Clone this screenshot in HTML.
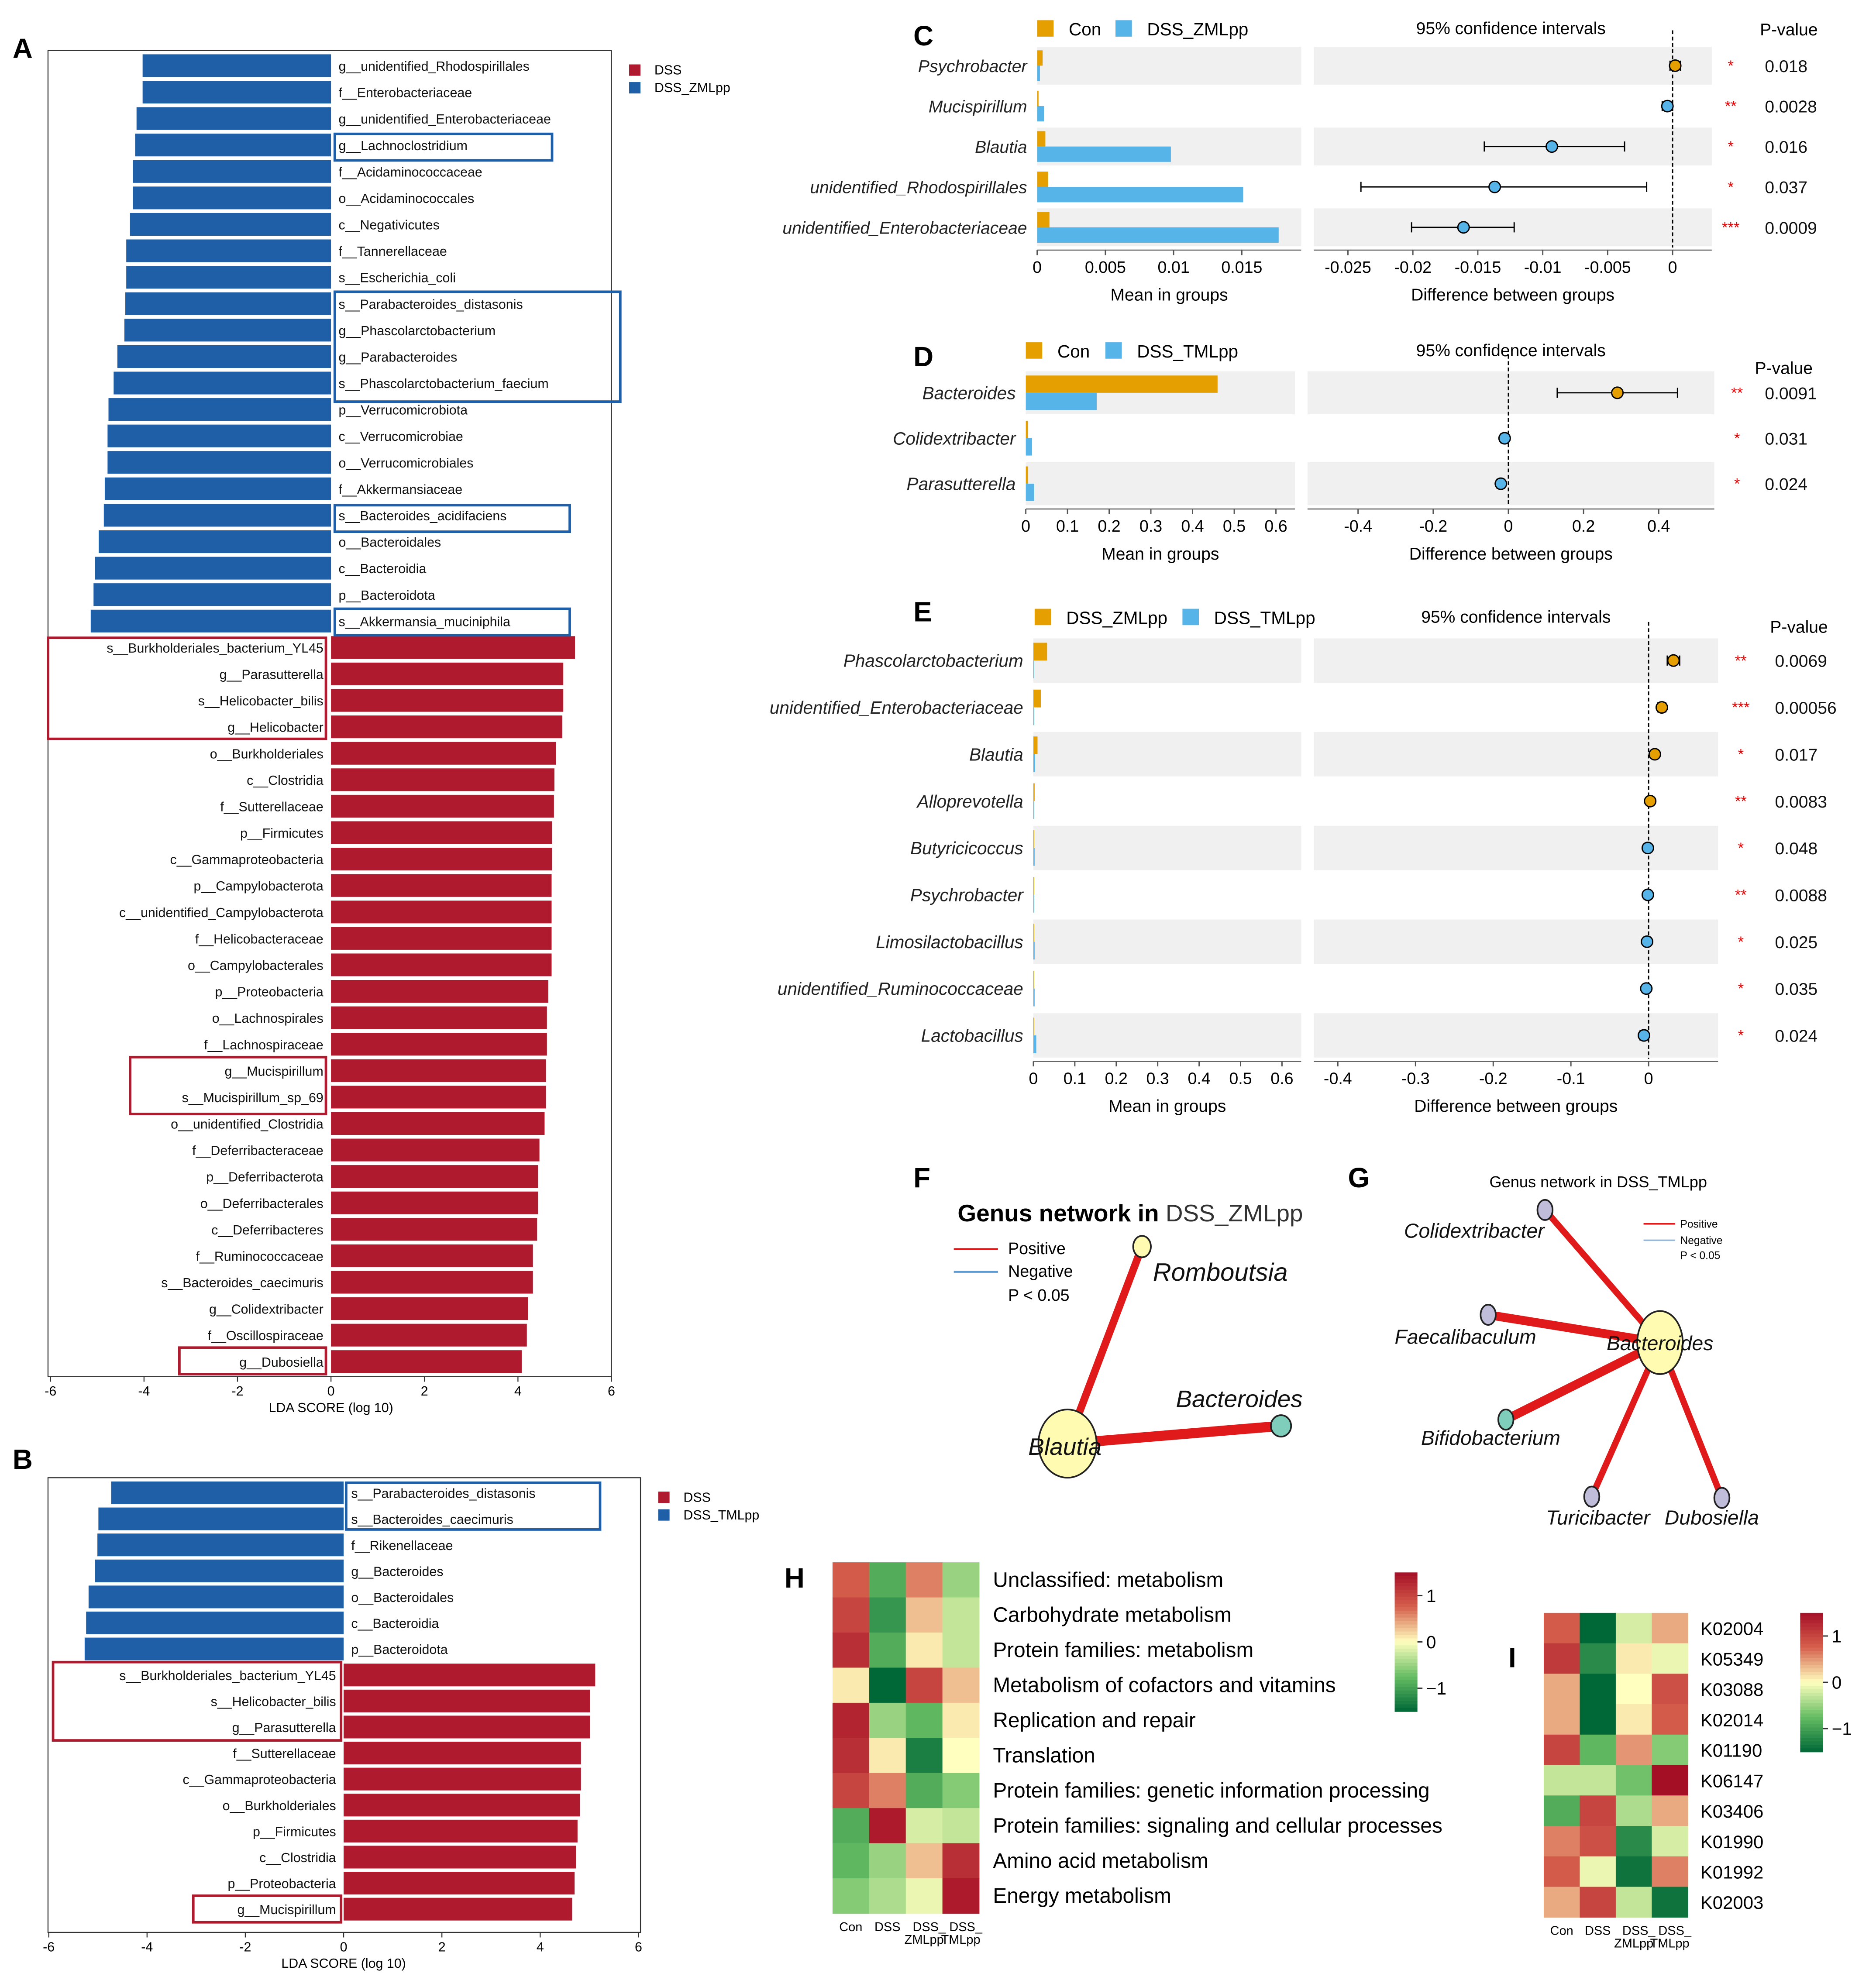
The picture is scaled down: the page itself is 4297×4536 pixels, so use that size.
<!DOCTYPE html>
<html><head><meta charset="utf-8">
<style>
html,body{margin:0;padding:0;background:#fff;}
svg{display:block;font-family:"Liberation Sans",Arial,sans-serif;}
</style></head>
<body>
<svg id="fig" xmlns="http://www.w3.org/2000/svg" width="4297" height="4536" viewBox="0 0 1485 1567.7" preserveAspectRatio="none">
<rect x="0" y="0" width="1500" height="1590" fill="#fff"/>
<g font-weight="bold" font-size="22" fill="#000">
<text x="10" y="46">A</text>
<text x="10" y="1163">B</text>
<text x="723" y="36">C</text>
<text x="723" y="290">D</text>
<text x="723" y="492">E</text>
<text x="723" y="940">F</text>
<text x="1067" y="940">G</text>
<text x="621" y="1257">H</text>
<text x="1194" y="1320">I</text>
</g>
</svg>
<script>
const NS='http://www.w3.org/2000/svg';
const S=document.getElementById('fig');
function mk(tag,attrs,txt){const e=document.createElementNS(NS,tag);for(const k in attrs)e.setAttribute(k,attrs[k]);if(txt!=null)e.textContent=txt;S.appendChild(e);return e;}

// ===== Panel A data =====
const ldaA_labels=["g__unidentified_Rhodospirillales","f__Enterobacteriaceae","g__unidentified_Enterobacteriaceae","g__Lachnoclostridium","f__Acidaminococcaceae","o__Acidaminococcales","c__Negativicutes","f__Tannerellaceae","s__Escherichia_coli","s__Parabacteroides_distasonis","g__Phascolarctobacterium","g__Parabacteroides","s__Phascolarctobacterium_faecium","p__Verrucomicrobiota","c__Verrucomicrobiae","o__Verrucomicrobiales","f__Akkermansiaceae","s__Bacteroides_acidifaciens","o__Bacteroidales","c__Bacteroidia","p__Bacteroidota","s__Akkermansia_muciniphila","s__Burkholderiales_bacterium_YL45","g__Parasutterella","s__Helicobacter_bilis","g__Helicobacter","o__Burkholderiales","c__Clostridia","f__Sutterellaceae","p__Firmicutes","c__Gammaproteobacteria","p__Campylobacterota","c__unidentified_Campylobacterota","f__Helicobacteraceae","o__Campylobacterales","p__Proteobacteria","o__Lachnospirales","f__Lachnospiraceae","g__Mucispirillum","s__Mucispirillum_sp_69","o__unidentified_Clostridia","f__Deferribacteraceae","p__Deferribacterota","o__Deferribacterales","c__Deferribacteres","f__Ruminococcaceae","s__Bacteroides_caecimuris","g__Colidextribacter","f__Oscillospiraceae","g__Dubosiella"];
const ldaA_values=[-4.03,-4.03,-4.16,-4.19,-4.24,-4.24,-4.3,-4.38,-4.38,-4.4,-4.42,-4.57,-4.65,-4.76,-4.78,-4.78,-4.84,-4.86,-4.97,-5.05,-5.08,-5.14,5.22,4.97,4.97,4.95,4.81,4.78,4.77,4.73,4.73,4.72,4.72,4.72,4.72,4.65,4.62,4.62,4.6,4.6,4.57,4.46,4.43,4.43,4.41,4.32,4.32,4.22,4.19,4.08];
const ldaA_ticks=[-6,-4,-2,0,2,4,6];
// ===== Panel B data =====
const ldaB_labels=["s__Parabacteroides_distasonis","s__Bacteroides_caecimuris","f__Rikenellaceae","g__Bacteroides","o__Bacteroidales","c__Bacteroidia","p__Bacteroidota","s__Burkholderiales_bacterium_YL45","s__Helicobacter_bilis","g__Parasutterella","f__Sutterellaceae","c__Gammaproteobacteria","o__Burkholderiales","p__Firmicutes","c__Clostridia","p__Proteobacteria","g__Mucispirillum"];
const ldaB_values=[-4.73,-4.99,-5.01,-5.06,-5.19,-5.24,-5.27,5.12,5.01,5.01,4.83,4.83,4.81,4.76,4.73,4.7,4.65];
const ldaB_ticks=[-6,-4,-2,0,2,4,6];

function ldaPanel(id,labels,vals,ticks,c){
  const bx=mk('rect',{x:c.L,y:c.T,width:c.R-c.L,height:c.B-c.T,fill:'none',stroke:'#333','stroke-width':0.8});
  
  
  const X=v=>c.x0+v*c.ppu;
  labels.forEach((lab,i)=>{
    const v=vals[i];const y=c.y0+i*c.step;
    const x1=Math.min(X(v),X(0)),w=Math.abs(X(v)-X(0));
    const r=mk('rect',{x:x1,y:y-c.bh/2,width:w,height:c.bh,fill:v<0?'#1f5fa8':'#b01a2e'});
    
    
    const t=mk('text',{x:v<0?X(0)+6:X(0)-6,y:y+4,'font-size':10.5,'text-anchor':v<0?'start':'end',fill:'#111'},lab);
    
    
  });
  ticks.forEach(tk=>{
    const l=mk('line',{x1:X(tk),x2:X(tk),y1:c.B,y2:c.B+4,stroke:'#333','stroke-width':0.8});
    
    
    const t=mk('text',{x:X(tk),y:c.B+15,'font-size':10.5,'text-anchor':'middle'},String(tk));
    
    
  });
  const xt=mk('text',{x:X(0),y:c.B+28,'font-size':10.5,'text-anchor':'middle'},'LDA SCORE (log 10)');
  
  
  [['#b01a2e','DSS',0],['#1f5fa8',c.g2,14]].forEach(e=>{
    const s=mk('rect',{x:c.lx,y:c.ly+e[2]-4,width:9,height:9,fill:e[0]});
    
    
    const t=mk('text',{x:c.lx+20,y:c.ly+e[2]+4,'font-size':10.5},e[1]);
    
    
  });
  c.boxes.forEach(b=>{
    const r=mk('rect',{x:b[0],y:b[1],width:b[2]-b[0],height:b[3]-b[1],fill:'none',stroke:b[4],'stroke-width':2});
    
    
  });
}
ldaPanel('lda-a',ldaA_labels,ldaA_values,ldaA_ticks,{L:38,R:484,T:40,B:1090,x0:262,ppu:37,y0:52,step:20.94,bh:18,lx:498,ly:55,g2:'DSS_ZMLpp',
 boxes:[[265,106,437,127,'#1f5fa8'],[265,231,491,318,'#1f5fa8'],[265,400,451,421,'#1f5fa8'],[265,482,451,503,'#1f5fa8'],[38,505,258,585,'#b01a2e'],[103,837,258,882,'#b01a2e'],[142,1067,258,1088,'#b01a2e']]});
ldaPanel('lda-b',ldaB_labels,ldaB_values,ldaB_ticks,{L:38,R:507,T:1170,B:1530,x0:272,ppu:38.9,y0:1182,step:20.6,bh:18,lx:521,ly:1185,g2:'DSS_TMLpp',
 boxes:[[274,1174,475,1211,'#1f5fa8'],[42,1316,270,1378,'#b01a2e'],[153,1501,270,1522,'#b01a2e']]});

// ===== Panel C data =====
const c_taxa=["Psychrobacter","Mucispirillum","Blautia","unidentified_Rhodospirillales","unidentified_Enterobacteriaceae"];
const c_g1=[0.0004,0.0001,0.0006,0.0008,0.0009];
const c_g2=[0.0002,0.0005,0.0098,0.0151,0.0177];
const c_diff=[0.0002,-0.0004,-0.0093,-0.0137,-0.0161];
const c_lo=[-0.0002,-0.0008,-0.0145,-0.024,-0.0201];
const c_hi=[0.0006,0.0000,-0.0037,-0.002,-0.0122];
const c_p=["0.018","0.0028","0.016","0.037","0.0009"];
const c_stars=["*","**","*","*","***"];
const c_meanTicks=[0,0.005,0.01,0.015];
const c_diffTicks=[-0.025,-0.02,-0.015,-0.01,-0.005,0];
// ===== Panel D data =====
const d_taxa=["Bacteroides","Colidextribacter","Parasutterella"];
const d_g1=[0.46,0.005,0.005];
const d_g2=[0.17,0.015,0.02];
const d_diff=[0.29,-0.01,-0.02];
const d_lo=[0.13,-0.02,-0.03];
const d_hi=[0.45,0.0,-0.01];
const d_p=["0.0091","0.031","0.024"];
const d_stars=["**","*","*"];
const d_meanTicks=[0,0.1,0.2,0.3,0.4,0.5,0.6];
const d_diffTicks=[-0.4,-0.2,0,0.2,0.4];
// ===== Panel E data =====
const e_taxa=["Phascolarctobacterium","unidentified_Enterobacteriaceae","Blautia","Alloprevotella","Butyricicoccus","Psychrobacter","Limosilactobacillus","unidentified_Ruminococcaceae","Lactobacillus"];
const e_g1=[0.033,0.018,0.01,0.003,0.002,0.002,0.002,0.001,0.001];
const e_g2=[0.001,0.002,0.004,0.001,0.003,0.002,0.003,0.003,0.007];
const e_diff=[0.032,0.017,0.008,0.002,-0.001,-0.001,-0.002,-0.003,-0.006];
const e_lo=[0.024,0.012,0.004,0.0,-0.004,-0.003,-0.004,-0.006,-0.011];
const e_hi=[0.04,0.022,0.012,0.004,0.002,0.001,0.0,0.0,-0.001];
const e_p=["0.0069","0.00056","0.017","0.0083","0.048","0.0088","0.025","0.035","0.024"];
const e_stars=["**","***","*","**","*","**","*","*","*"];
const e_meanTicks=[0,0.1,0.2,0.3,0.4,0.5,0.6];
const e_diffTicks=[-0.4,-0.3,-0.2,-0.1,0];

const ORANGE='#e69f00',BLUE='#56b4e9';
function extPlot(id,taxa,g1,g2,diff,lo,hi,p,stars,mt,dt,c){
  const MX=v=>c.mL+(v-mt[0])*c.mppu;
  const DX=v=>c.d0+v*c.dppu;
  taxa.forEach((tx,i)=>{
    const y=c.y0+i*c.step;
    if(i%2===0){
      const b1=mk('rect',{x:c.mL,y:y-c.step/2+1,width:c.mR-c.mL,height:c.step-2,fill:'#f0f0f0'});
      
      
      const b2=mk('rect',{x:c.dL,y:y-c.step/2+1,width:c.dR-c.dL,height:c.step-2,fill:'#f0f0f0'});
      
      
    }
    const t=mk('text',{x:c.mL-8,y:y+5,'font-size':c.fs,'font-style':'italic','text-anchor':'end',fill:'#222'},tx);
    
    
    const bh=c.step*0.38;
    const r1=mk('rect',{x:MX(0),y:y-bh,width:Math.max(0.6,MX(g1[i])-MX(0)),height:bh,fill:ORANGE});
    
    
    const r2=mk('rect',{x:MX(0),y:y,width:Math.max(0.6,MX(g2[i])-MX(0)),height:bh,fill:BLUE});
    
    
  });
  const zl=mk('line',{x1:DX(0),x2:DX(0),y1:c.y0-c.step/2-12,y2:c.y0+(taxa.length-0.5)*c.step,stroke:'#000','stroke-width':1,'stroke-dasharray':'3,2'});
  
  
  taxa.forEach((tx,i)=>{
    const y=c.y0+i*c.step;
    const l=mk('line',{x1:DX(lo[i]),x2:DX(hi[i]),y1:y,y2:y,stroke:'#000','stroke-width':1});
    
    
    [lo[i],hi[i]].forEach(v=>{
      const cap=mk('line',{x1:DX(v),x2:DX(v),y1:y-4,y2:y+4,stroke:'#000','stroke-width':1});
      
      
    });
    const pt=mk('circle',{cx:DX(diff[i]),cy:y,r:4.5,fill:diff[i]>=0?ORANGE:BLUE,stroke:'#000','stroke-width':1});
    
    
    const st=mk('text',{x:c.sx,y:y+4,'font-size':12,fill:'#e00','text-anchor':'middle'},stars[i]);
    
    
    const pv=mk('text',{x:c.px,y:y+5,'font-size':13.5,fill:'#111'},p[i]);
    
    
  });
  const yb=c.y0+(taxa.length-0.5)*c.step+2;
  [[c.mL,c.mR],[c.dL,c.dR]].forEach(a=>{
    const ax=mk('line',{x1:a[0],x2:a[1],y1:yb,y2:yb,stroke:'#555','stroke-width':0.8});
    
    
  });
  mt.forEach(v=>{
    const tk=mk('line',{x1:MX(v),x2:MX(v),y1:yb,y2:yb+4,stroke:'#555'});
    
    
    const t=mk('text',{x:MX(v),y:yb+18,'font-size':13,'text-anchor':'middle'},String(v));
    
    
  });
  dt.forEach(v=>{
    const tk=mk('line',{x1:DX(v),x2:DX(v),y1:yb,y2:yb+4,stroke:'#555'});
    
    
    const t=mk('text',{x:DX(v),y:yb+18,'font-size':13,'text-anchor':'middle'},String(v));
    
    
  });
  const t1=mk('text',{x:(c.mL+c.mR)/2,y:yb+40,'font-size':13.5,'text-anchor':'middle'},'Mean in groups');
  
  
  const t2=mk('text',{x:(c.dL+c.dR)/2,y:yb+40,'font-size':13.5,'text-anchor':'middle'},'Difference between groups');
  
  
  const ci=mk('text',{x:c.cix,y:c.ly+5,'font-size':13.5,'text-anchor':'middle'},'95% confidence intervals');
  
  
  const ph=mk('text',{x:c.phx,y:c.phy,'font-size':13.5,'text-anchor':'middle'},'P-value');
  
  
  [[ORANGE,c.n1,c.lx],[BLUE,c.n2,c.lx2]].forEach(e=>{
    const s=mk('rect',{x:e[2],y:c.ly-6,width:13,height:13,fill:e[0]});
    
    
    const t=mk('text',{x:e[2]+25,y:c.ly+6,'font-size':14},e[1]);
    
    
  });
}
extPlot('panel-c',c_taxa,c_g1,c_g2,c_diff,c_lo,c_hi,c_p,c_stars,c_meanTicks,c_diffTicks,
 {mL:821,mR:1030,mppu:10800,d0:1324,dppu:10280,dL:1040,dR:1355,y0:52,step:32,fs:13.5,sx:1370,px:1397,cix:1196,phx:1416,phy:28,ly:22,n1:'Con',n2:'DSS_ZMLpp',lx:821,lx2:883});
extPlot('panel-d',d_taxa,d_g1,d_g2,d_diff,d_lo,d_hi,d_p,d_stars,d_meanTicks,d_diffTicks,
 {mL:812,mR:1025,mppu:330,d0:1194,dppu:297.5,dL:1035,dR:1357,y0:311,step:36,fs:14,sx:1375,px:1397,cix:1196,phx:1412,phy:296,ly:277,n1:'Con',n2:'DSS_TMLpp',lx:812,lx2:875});
extPlot('panel-e',e_taxa,e_g1,e_g2,e_diff,e_lo,e_hi,e_p,e_stars,e_meanTicks,e_diffTicks,
 {mL:818,mR:1030,mppu:328,d0:1305,dppu:615,dL:1040,dR:1360,y0:523,step:37.1,fs:14,sx:1378,px:1405,cix:1200,phx:1424,phy:501,ly:488,n1:'DSS_ZMLpp',n2:'DSS_TMLpp',lx:819,lx2:936});

// ===== Networks F & G =====
const f_nodes=["Romboutsia","Blautia","Bacteroides"];
const f_nodeX=[904,845,1014];
const f_nodeY=[987,1143,1129];
const f_edges=[[0,1,6],[1,2,8]];
const g_nodes=["Bacteroides","Colidextribacter","Faecalibaculum","Bifidobacterium","Turicibacter","Dubosiella"];
const g_nodeX=[1314,1223,1178,1192,1260,1363];
const g_nodeY=[1063,958,1041,1124,1185,1186];
const g_edges=[[0,1,5],[0,2,7],[0,3,7],[0,4,5],[0,5,5]];
function network(id,names,xs,ys,edges,nodeStyle){
  edges.forEach(e=>{
    const l=mk('line',{x1:xs[e[0]],y1:ys[e[0]],x2:xs[e[1]],y2:ys[e[1]],stroke:'#e01a1a','stroke-width':e[2]});
    
    
  });
  names.forEach((n,i)=>{
    const s=nodeStyle[i];
    const c=mk('ellipse',{cx:xs[i],cy:ys[i],rx:s[0],ry:s[1],fill:s[2],stroke:'#222','stroke-width':1.3});
    
    
    const t=mk('text',{x:xs[i]+s[3],y:ys[i]+s[4],'font-size':s[5],'font-style':'italic','text-anchor':'middle',fill:'#111'},n);
    
    
  });
}
network('network-f',f_nodes,f_nodeX,f_nodeY,f_edges,[[7,8.5,'#fffbb0',62,27,20],[23,27,'#fffbb0',-2,9,19],[8,8.5,'#7fcdbb',-33,-15,19]]);
network('network-g',g_nodes,g_nodeX,g_nodeY,g_edges,[[18,25,'#fffbb0',0,6,16],[6,8,'#c0bddb',-56,22,16],[6,8,'#c0bddb',-18,23,16],[6,8,'#7fcdbb',-12,20,16],[6,8,'#c0bddb',5,22,16],[6,8,'#c0bddb',-8,21,16]]);
(function(){
  const t=mk('text',{x:758,y:967,'font-size':19,'font-weight':'bold'},'Genus network in ');
  
  
  const ts=document.createElementNS(NS,'tspan');ts.setAttribute('font-weight','normal');ts.setAttribute('fill','#333');ts.textContent='DSS_ZMLpp';t.appendChild(ts);
  const t2=mk('text',{x:1179,y:940,'font-size':12.5},'Genus network in DSS_TMLpp');
  
  
  [[755,993,790,'#e01a1a','Positive',798,13],[755,1011,790,'#5b9bd5','Negative',798,13]].forEach(a=>{
    const l=mk('line',{x1:a[0],x2:a[2],y1:a[1]-4,y2:a[1]-4,stroke:a[3],'stroke-width':1.5});
    
    
    const t=mk('text',{x:a[5],y:a[1],'font-size':a[6]},a[4]);
    
    
  });
  const p=mk('text',{x:798,y:1030,'font-size':13},'P < 0.05');
  
  
  [[1301,972,1326,'#e01a1a','Positive'],[1301,985,1326,'#9ab8d6','Negative']].forEach(a=>{
    const l=mk('line',{x1:a[0],x2:a[2],y1:a[1]-3,y2:a[1]-3,stroke:a[3],'stroke-width':1.2});
    
    
    const t=mk('text',{x:1330,y:a[1],'font-size':8.5},a[4]);
    
    
  });
  const p2=mk('text',{x:1330,y:997,'font-size':8.5},'P < 0.05');
  
  
})();

// ===== Heatmaps H & I =====
const h_rows=["Unclassified: metabolism","Carbohydrate metabolism","Protein families: metabolism","Metabolism of cofactors and vitamins","Replication and repair","Translation","Protein families: genetic information processing","Protein families: signaling and cellular processes","Amino acid metabolism","Energy metabolism"];
const h_cols=["Con","DSS","DSS_ZMLpp","DSS_TMLpp"];
const h_values=[[0.8,-0.9,0.6,-0.5],[1.0,-1.1,0.3,-0.3],[1.2,-0.9,0.1,-0.3],[0.1,-1.5,1.0,0.3],[1.3,-0.5,-0.8,0.1],[1.2,0.1,-1.3,0.0],[1.0,0.6,-0.9,-0.6],[-0.9,1.4,-0.2,-0.3],[-0.8,-0.5,0.3,1.2],[-0.6,-0.4,-0.1,1.4]];
const i_rows=["K02004","K05349","K03088","K02014","K01190","K06147","K03406","K01990","K01992","K02003"];
const i_values=[[0.8,-1.5,-0.2,0.4],[1.1,-1.2,0.1,-0.1],[0.4,-1.5,0.0,0.9],[0.4,-1.5,0.1,0.8],[1.0,-0.8,0.5,-0.6],[-0.3,-0.3,-0.7,1.5],[-0.9,1.0,-0.4,0.4],[0.6,0.9,-1.2,-0.2],[0.8,-0.1,-1.4,0.6],[0.4,1.0,-0.3,-1.4]];
const cbTicks=[1,0,-1];
const STOPS=[[-1.5,[0,104,55]],[-0.75,[102,189,99]],[0,[255,255,191]],[0.75,[214,96,77]],[1.5,[165,15,38]]];
function col(v){v=Math.max(-1.5,Math.min(1.5,v));for(let k=0;k<STOPS.length-1;k++){const a=STOPS[k],b=STOPS[k+1];if(v<=b[0]){const t=(v-a[0])/(b[0]-a[0]);const c=a[1].map((x,j)=>Math.round(x+(b[1][j]-x)*t));return 'rgb('+c.join(',')+')';}}return 'rgb(165,15,38)';}
function heat(id,rows,vals,c){
  const cw=(c.R-c.L)/4,rh=(c.B-c.T)/rows.length;
  rows.forEach((rn,i)=>{
    vals[i].forEach((v,j)=>{
      const r=mk('rect',{x:c.L+j*cw,y:c.T+i*rh,width:cw+0.3,height:rh+0.3,fill:col(v)});
      
      
    });
    const t=mk('text',{x:c.R+c.lg,y:c.T+(i+0.5)*rh+5.5,'font-size':c.fs},rn);
    
    
  });
  const cl=[['Con'],['DSS'],['DSS_','ZMLpp'],['DSS_','TMLpp']];
  cl.forEach((lines,j)=>{
    lines.forEach((s,k)=>{
      const t=mk('text',{x:c.L+(j+0.5)*cw+(k?0:(lines.length>1?4:0)),y:c.B+14+k*10,'font-size':10,'text-anchor':'middle'},s);
      
      
    });
  });
  const n=40,h=(c.cbB-c.cbT)/n;
  for(let k=0;k<n;k++){
    const v=1.5-3*(k+0.5)/n;
    const r=mk('rect',{x:c.cbX,y:c.cbT+k*h,width:18,height:h+0.4,fill:col(v)});
    
    
  }
  cbTicks.forEach(v=>{
    const y=c.cbT+(1.5-v)/3*(c.cbB-c.cbT);
    const l=mk('line',{x1:c.cbX+18,x2:c.cbX+22,y1:y,y2:y,stroke:'#333'});
    
    
    const t=mk('text',{x:c.cbX+25,y:y+5,'font-size':14},v<0?'\u22121':String(v));
    
    
  });
}
heat('heatmap-h',h_rows,h_values,{L:659,R:775,T:1237,B:1515,lg:11,fs:16.5,cbX:1104,cbT:1245,cbB:1355});
heat('heatmap-i',i_rows,i_values,{L:1222,R:1336,T:1277,B:1518,lg:10,fs:14.5,cbX:1425,cbT:1277,cbB:1387});
</script>
</body></html>
